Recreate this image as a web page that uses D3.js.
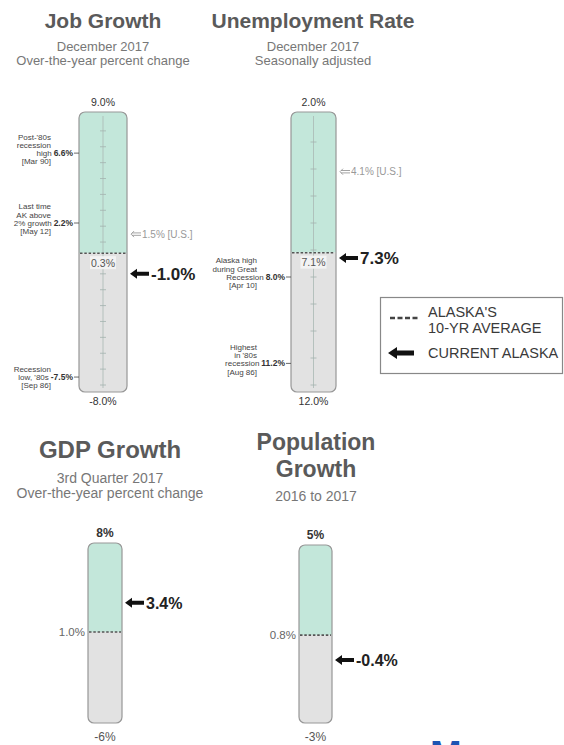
<!DOCTYPE html>
<html>
<head>
<meta charset="utf-8">
<script src="https://cdn.jsdelivr.net/npm/d3@7"></script>
<style>
  body { margin: 0; background: #fff; }
  svg { display: block; font-family: "Liberation Sans", Arial, sans-serif; }
</style>
</head>
<body>
<svg id="chart"></svg>
<script>
// data
const titles = [["Job Growth"], ["Unemployment Rate"], ["GDP Growth"], ["Population", "Growth"]];
const subtitles = [
  ["December 2017", "Over-the-year percent change"],
  ["December 2017", "Seasonally adjusted"],
  ["3rd Quarter 2017", "Over-the-year percent change"],
  ["2016 to 2017"]
];
const scaleTop = [9, 2, 8, 5];
const scaleBottom = [-8, 12, -6, -3];
const topLabels = ["9.0%", "2.0%", "8%", "5%"];
const bottomLabels = ["-8.0%", "12.0%", "-6%", "-3%"];
const tenYearAvg = [0.3, 7.1, 1.0, 0.8];
const avgLabels = ["0.3%", "7.1%", "1.0%", "0.8%"];
const currentAlaska = [-1.0, 7.3, 3.4, -0.4];
const currentLabels = ["-1.0%", "7.3%", "3.4%", "-0.4%"];
const usValues = [1.5, 4.1, null, null];
const usLabels = ["1.5% [U.S.]", "4.1% [U.S.]", null, null];
const noteValues = [[6.6, 2.2, -7.5], [8.0, 11.2], [], []];
const noteLabels = [["6.6%", "2.2%", "-7.5%"], ["8.0%", "11.2%"], [], []];
const noteText = [
  [["Post-'80s", "recession", "high", "[Mar 90]"],
   ["Last time", "AK above", "2% growth", "[May 12]"],
   ["Recession", "low, '80s", "[Sep 86]"]],
  [["Alaska high", "during Great", "Recession", "[Apr 10]"],
   ["Highest", "in '80s", "recession", "[Aug 86]"]],
  [], []
];
const legendLabels = [["ALASKA'S", "10-YR AVERAGE"], ["CURRENT ALASKA"]];

// layout of each gauge
const layout = [
  { cx: 103, w: 48, top: 112, bottom: 392, padT: 3, padB: 7, titleX: 103, titleY: 28, titleSize: 21,
    subY: 51, subSize: 13, subGap: 14, ticks: true, inside: true, endSize: 10.5, endGap: 13, endBold: false,
    bigSize: 17, notesRight: 51, noteLine: [2, 2, 1] },
  { cx: 313.5, w: 45, top: 112, bottom: 392, padT: 3, padB: 7, titleX: 313, titleY: 28, titleSize: 21,
    subY: 51, subSize: 13, subGap: 14, ticks: true, inside: true, endSize: 10.5, endGap: 13, endBold: false,
    bigSize: 17, notesRight: 257, noteLine: [2, 2] },
  { cx: 105, w: 34, top: 543, bottom: 723, padT: 4, padB: 6, titleX: 110, titleY: 458, titleSize: 24,
    subY: 483, subSize: 14, subGap: 15, ticks: false, inside: false, endSize: 12, endGap: 18, endBold: true,
    bigSize: 16 },
  { cx: 315.5, w: 33, top: 545, bottom: 723, padT: 3, padB: 9, titleX: 316, titleY: 450, titleSize: 23, titleGap: 26.5,
    subY: 501, subSize: 14, subGap: 15, ticks: false, inside: false, endSize: 12, endGap: 18, endBold: true,
    bigSize: 16 }
];

const width = 564, height = 745;
const svg = d3.select("#chart").attr("width", width).attr("height", height);
const defs = svg.append("defs");

const arrowPath = (tip, y, head, half, shaft, len) =>
  `M${tip},${y} L${tip + head},${y - half} L${tip + head},${y - shaft} L${tip + len},${y - shaft} ` +
  `L${tip + len},${y + shaft} L${tip + head},${y + shaft} L${tip + head},${y + half} Z`;

layout.forEach((L, i) => {
  const g = svg.append("g");
  const x0 = L.cx - L.w / 2, x1 = L.cx + L.w / 2;
  const y = d3.scaleLinear()
    .domain([scaleTop[i], scaleBottom[i]])
    .range([L.top + L.padT, L.bottom - L.padB]);

  // titles
  titles[i].forEach((t, j) => {
    g.append("text")
      .attr("x", L.titleX).attr("y", L.titleY + j * (L.titleGap || 0))
      .attr("text-anchor", "middle")
      .style("font-size", L.titleSize + "px").style("font-weight", "bold")
      .attr("fill", "#5a5a5a").text(t);
  });
  subtitles[i].forEach((t, j) => {
    g.append("text")
      .attr("x", L.titleX).attr("y", L.subY + j * L.subGap)
      .attr("text-anchor", "middle")
      .style("font-size", L.subSize + "px")
      .attr("fill", "#777").text(t);
  });

  // gauge body
  defs.append("clipPath").attr("id", "clip" + i)
    .append("rect")
    .attr("x", x0).attr("y", L.top).attr("width", L.w).attr("height", L.bottom - L.top).attr("rx", 6);

  const yAvg = y(tenYearAvg[i]);
  const body = g.append("g").attr("clip-path", `url(#clip${i})`);
  body.append("rect")
    .attr("x", x0).attr("y", L.top).attr("width", L.w).attr("height", yAvg - L.top)
    .attr("fill", "#c3e7da");
  body.append("rect")
    .attr("x", x0).attr("y", yAvg).attr("width", L.w).attr("height", L.bottom - yAvg)
    .attr("fill", "#e2e2e2");

  if (L.ticks) {
    g.append("line")
      .attr("x1", L.cx).attr("x2", L.cx).attr("y1", L.top + 4).attr("y2", L.bottom - 4)
      .attr("stroke", "#a9b9b4").attr("stroke-width", 0.8);
    const lo = Math.min(scaleTop[i], scaleBottom[i]), hi = Math.max(scaleTop[i], scaleBottom[i]);
    const ticks = d3.range(Math.ceil(lo), Math.floor(hi) + 1).filter(v => v !== scaleTop[i]);
    g.selectAll(".tick" + i).data(ticks).enter().append("line")
      .attr("x1", L.cx - 3).attr("x2", L.cx + 3)
      .attr("y1", d => y(d)).attr("y2", d => y(d))
      .attr("stroke", "#a3b3ae").attr("stroke-width", 0.8);
  }

  g.append("rect")
    .attr("x", x0).attr("y", L.top).attr("width", L.w).attr("height", L.bottom - L.top).attr("rx", 6)
    .attr("fill", "none").attr("stroke", "#979797").attr("stroke-width", 1.2);

  // ten-year average
  g.append("line")
    .attr("x1", x0 + 1).attr("x2", x1 - 1).attr("y1", yAvg).attr("y2", yAvg)
    .attr("stroke", "#555").attr("stroke-width", 1.6).attr("stroke-dasharray", "2.5,1.8");
  if (L.inside) {
    g.append("rect")
      .attr("x", L.cx - 13).attr("y", yAvg + 3).attr("width", 26).attr("height", 13)
      .attr("fill", "#f3f3f3");
    g.append("text")
      .attr("x", L.cx).attr("y", yAvg + 13.5).attr("text-anchor", "middle")
      .style("font-size", "10.5px").attr("fill", "#555").text(avgLabels[i]);
  } else {
    g.append("text")
      .attr("x", x0 - 3).attr("y", yAvg + 4).attr("text-anchor", "end")
      .style("font-size", "11.5px").attr("fill", "#666").text(avgLabels[i]);
  }

  // end labels
  g.append("text")
    .attr("x", L.cx).attr("y", L.top - 6).attr("text-anchor", "middle")
    .style("font-size", L.endSize + "px").style("font-weight", L.endBold ? "bold" : "normal")
    .attr("fill", "#333").text(topLabels[i]);
  g.append("text")
    .attr("x", L.cx).attr("y", L.bottom + L.endGap).attr("text-anchor", "middle")
    .style("font-size", L.endSize + "px")
    .attr("fill", L.endBold ? "#555" : "#333").text(bottomLabels[i]);

  // current Alaska arrow
  const yCur = y(currentAlaska[i]);
  g.append("path")
    .attr("d", arrowPath(x1 + 3, yCur, 7, 5, 2, 19))
    .attr("fill", "#111");
  g.append("text")
    .attr("x", x1 + 24).attr("y", yCur + L.bigSize * 0.36)
    .style("font-size", L.bigSize + "px").style("font-weight", "bold")
    .attr("fill", "#222").text(currentLabels[i]);

  // U.S. marker
  if (usValues[i] != null) {
    const yUs = y(usValues[i]);
    const a = x1 + 4;
    g.append("path")
      .attr("d", `M${a + 3},${yUs - 3} L${a},${yUs} L${a + 3},${yUs + 3} M${a + 1},${yUs - 1.2} L${a + 10},${yUs - 1.2} M${a + 1},${yUs + 1.2} L${a + 10},${yUs + 1.2}`)
      .attr("fill", "none").attr("stroke", "#999").attr("stroke-width", 0.9);
    g.append("text")
      .attr("x", a + 11).attr("y", yUs + 3.5)
      .style("font-size", "10px").attr("fill", "#999").text(usLabels[i]);
  }

  // historical notes on the left
  (noteValues[i] || []).forEach((v, k) => {
    const yv = y(v);
    g.append("line")
      .attr("x1", x0 - 5).attr("x2", x0).attr("y1", yv).attr("y2", yv)
      .attr("stroke", "#444").attr("stroke-width", 0.8);
    const val = g.append("text")
      .attr("x", x0 - 6).attr("y", yv + 3).attr("text-anchor", "end")
      .style("font-size", "8.5px").style("font-weight", "bold")
      .attr("fill", "#333").text(noteLabels[i][k]);
    const valStart = x0 - 6 - val.node().getComputedTextLength();
    const line0 = L.noteLine[k];
    noteText[i][k].forEach((t, j) => {
      g.append("text")
        .attr("x", j === line0 ? valStart - 2 : L.notesRight)
        .attr("y", yv + 3 + (j - line0) * 8.3)
        .attr("text-anchor", "end")
        .style("font-size", "8px").attr("fill", "#444").text(t);
    });
  });
});

// legend
const lg = svg.append("g");
lg.append("rect")
  .attr("x", 380.5).attr("y", 297.5).attr("width", 182).attr("height", 76)
  .attr("fill", "#fff").attr("stroke", "#888").attr("stroke-width", 1.2);
lg.append("line")
  .attr("x1", 390).attr("x2", 418).attr("y1", 318).attr("y2", 318)
  .attr("stroke", "#444").attr("stroke-width", 2.5).attr("stroke-dasharray", "5,2.5");
legendLabels[0].forEach((t, j) => {
  lg.append("text").attr("x", 428).attr("y", 317 + j * 16)
    .style("font-size", "14.5px").attr("fill", "#3a3a3a").text(t);
});
lg.append("path").attr("d", arrowPath(388, 353, 9, 6, 2.5, 26)).attr("fill", "#111");
lg.append("text").attr("x", 428).attr("y", 358)
  .style("font-size", "14.5px").attr("fill", "#3a3a3a").text(legendLabels[1][0]);

// cut-off heading at the bottom edge
svg.append("text").attr("x", 430).attr("y", 768)
  .style("font-size", "38px").style("font-weight", "bold")
  .attr("fill", "#1d55b3").text("More");
</script>
</body>
</html>
